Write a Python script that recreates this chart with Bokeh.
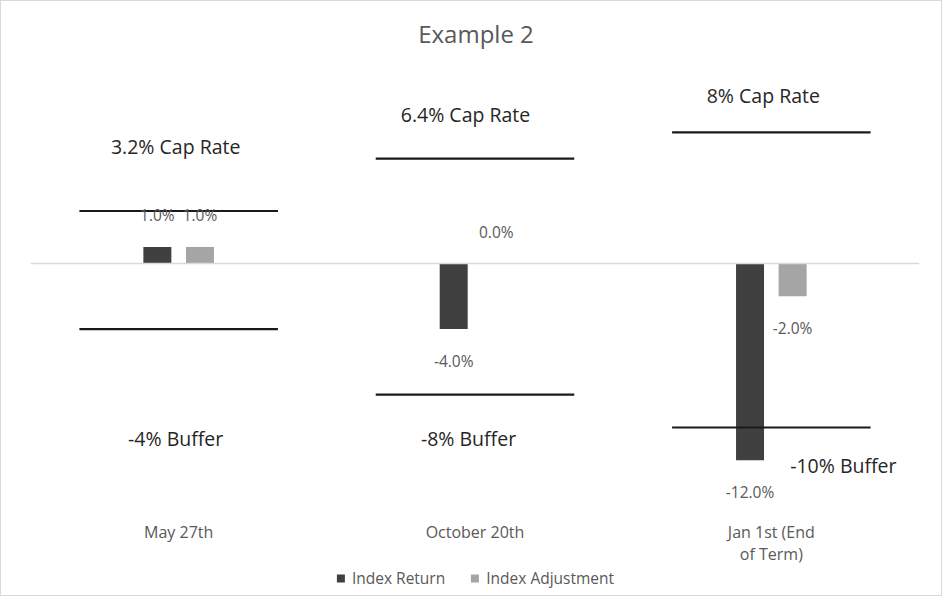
from bokeh.plotting import figure
from bokeh.layouts import column
from bokeh.models import (ColumnDataSource, FactorRange, Range1d, Span, Legend, LegendItem)
from bokeh.transform import dodge
from bokeh.core.properties import value
from bokeh.embed import file_html
from bokeh.resources import INLINE

# ---- data ----
categories = ["May 27th", "October 20th", "Jan 1st (End\nof Term)"]
series_names = ["Index Return", "Index Adjustment"]
index_return = [1.0, -4.0, -12.0]
index_adjustment = [1.0, 0.0, -2.0]
cap_rates = [3.2, 6.4, 8.0]
buffers = [-4.0, -8.0, -10.0]
cap_labels = ["3.2% Cap Rate", "6.4% Cap Rate", "8% Cap Rate"]
buffer_labels = ["-4% Buffer", "-8% Buffer", "-10% Buffer"]
title_text = "Example 2"

# ---- layout ----
FL, FR, FT = 29, 22, 0
FRAME_W, FRAME_H = 889, 519
PX = 16.4                         # pixels per data unit
ZERO_PX = 262                     # zero line, px from frame top
Y1 = ZERO_PX / PX
Y0 = -(FRAME_H - ZERO_PX) / PX
CAT_PX = FRAME_W / len(categories)
W = FL + FRAME_W + FR

FONT = "Open Sans"
DARK = "#404040"
LIGHT = "#a5a5a5"
TXT = "#595959"
INK = "#262626"

p = figure(x_range=FactorRange(factors=categories, range_padding=0),
           y_range=Range1d(Y0, Y1), frame_width=FRAME_W, frame_height=FRAME_H,
           output_backend="svg", toolbar_location=None,
           min_border_left=FL, min_border_right=FR, min_border_top=FT,
           min_border_bottom=0)
p.outline_line_color = None
p.xgrid.visible = False
p.ygrid.visible = False
p.yaxis.visible = False
p.xaxis.axis_line_color = None
p.xaxis.major_tick_line_color = None
p.xaxis.minor_tick_line_color = None
p.xaxis.major_tick_out = 0
p.xaxis.major_tick_in = 0
p.xaxis.minor_tick_out = 0
p.xaxis.axis_label_standoff = 0
p.xaxis.major_label_text_font = FONT
p.xaxis.major_label_text_font_size = "16px"
p.xaxis.major_label_text_color = TXT
p.xaxis.major_label_text_line_height = 1.0
p.xaxis.major_label_standoff = 0

# zero line
p.add_layout(Span(location=0, dimension="width", line_color="#d9d9d9", line_width=1.5))

src = ColumnDataSource(dict(cat=categories, ret=index_return, adj=index_adjustment))
off = 21.3 / CAT_PX
bw = 28 / CAT_PX
p.vbar(x=dodge("cat", -off, range=p.x_range), top="ret", bottom=0, width=bw,
       source=src, fill_color=DARK, line_color=None)
p.vbar(x=dodge("cat", off, range=p.x_range), top="adj", bottom=0, width=bw,
       source=src, fill_color=LIGHT, line_color=None)

# cap / buffer lines
half = 0.335
xc = [i + 0.5 for i in range(len(categories))]
p.segment(x0=[x - half for x in xc], x1=[x + half for x in xc], y0=cap_rates, y1=cap_rates,
          line_color="#1a1a1a", line_width=2.2)
p.segment(x0=[x - half for x in xc], x1=[x + half for x in xc], y0=buffers, y1=buffers,
          line_color="#1a1a1a", line_width=2.2)

# data labels
def fmt(v):
    return f"{v:.1f}%"
lab_x, lab_y, lab_t = [], [], []
for i, (a, b) in enumerate(zip(index_return, index_adjustment)):
    for v, o in ((a, -off), (b, off)):
        lab_x.append(xc[i] + o)
        lab_y.append(v + (32 if v >= 0 else -32) / PX)
        lab_t.append(fmt(v))
p.text(x=lab_x, y=lab_y, text=lab_t, text_align="center", text_baseline="middle",
       text_font=value(FONT), text_font_size="15.5px", text_color=TXT)

# cap / buffer annotations (pixel offsets from their line / category centre)
cap_dx = [-3, -9.5, -8]
cap_dy = [65, 44, 37]
buf_dx = [-3, -6.5, 72]
buf_dy = [109, 44, 38]
p.text(x=[xc[i] + cap_dx[i] / CAT_PX for i in range(3)],
       y=[cap_rates[i] + cap_dy[i] / PX for i in range(3)],
       text=cap_labels, text_align="center", text_baseline="middle",
       text_font=value(FONT), text_font_size="19.5px", text_color=INK)
p.text(x=[xc[i] + buf_dx[i] / CAT_PX for i in range(3)],
       y=[buffers[i] - buf_dy[i] / PX for i in range(3)],
       text=buffer_labels, text_align="center", text_baseline="middle",
       text_font=value(FONT), text_font_size="19.5px", text_color=INK)

# title
p.text(x=[1.5 + 1 / CAT_PX], y=[(263 - 33) / PX], text=[title_text],
       text_align="center", text_baseline="middle",
       text_font=value(FONT), text_font_size="24px", text_color=TXT)

# ---- legend strip (separate small figure below the chart) ----
q = figure(width=W, height=28, x_range=Range1d(0, 1), y_range=Range1d(0, 1),
           output_backend="svg", toolbar_location=None,
           min_border_left=0, min_border_right=0, min_border_top=0, min_border_bottom=0)
q.axis.visible = False
q.grid.visible = False
q.outline_line_color = None
# zero-size swatch renderers, only used to give the legend its colours
e1 = q.vbar(x=[0.5], top=[0], bottom=[0], width=0, fill_color=DARK, line_color=None)
e2 = q.vbar(x=[0.5], top=[0], bottom=[0], width=0, fill_color=LIGHT, line_color=None)
legend = Legend(items=[LegendItem(label=series_names[0], renderers=[e1]),
                       LegendItem(label=series_names[1], renderers=[e2])],
                orientation="horizontal", location="top_center",
                glyph_width=10, glyph_height=10, label_standoff=7, spacing=24,
                label_height=12, padding=0, margin=0,
                border_line_color=None, background_fill_alpha=0,
                label_text_font=FONT, label_text_font_size="15.5px", label_text_color=TXT)
q.add_layout(legend, "center")

layout = column(p, q, spacing=0)
layout.styles = {"border": "1px solid #d9d9d9"}

open("out.html", "w").write(file_html(layout, INLINE))
